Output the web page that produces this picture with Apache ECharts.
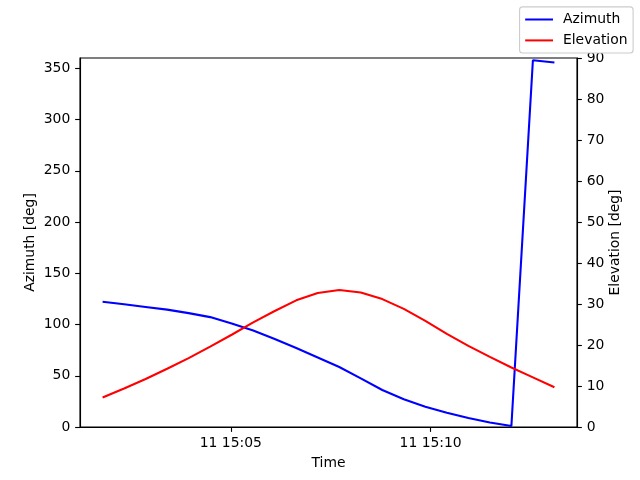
<!DOCTYPE html>
<html><head><meta charset="utf-8">
<script src="https://cdn.jsdelivr.net/npm/echarts@6/dist/echarts.min.js"></script>
<style>html,body{margin:0;padding:0;background:#fff}#c{width:640px;height:480px}</style>
</head><body><div id="c"></div>
<script>
const day = '2000-01-11';
const times = ['15:01:47.5','15:02:19.8','15:02:52.1','15:03:24.4','15:03:56.7','15:04:29.0','15:05:01.3','15:05:33.6','15:06:05.9','15:06:38.2','15:07:10.5','15:07:42.8','15:08:15.1','15:08:47.4','15:09:19.7','15:09:52.0','15:10:24.3','15:10:56.6','15:11:28.9','15:12:01.2','15:12:33.5','15:13:05.8'];
const azimuth = [122.2,119.7,117.1,114.5,111.1,107.2,100.9,94.1,85.8,77.0,67.8,58.5,47.5,36.1,27.0,19.8,13.9,8.8,4.4,1.0,357.8,355.6];
const elevation = [7.2,9.4,11.7,14.2,16.8,19.6,22.5,25.5,28.3,30.9,32.7,33.4,32.8,31.2,28.8,25.9,22.7,19.8,17.1,14.5,12.1,9.7];
const xTickTimes = ['15:05:00','15:10:00'];
const xTickLabels = ['11 15:05','11 15:10'];
const azTicks = [0,50,100,150,200,250,300,350];
const xMin = '15:01:13.6', xMax = '15:13:39.7';

function ts(t){ return new Date(day + 'T' + t).getTime(); }
const xTickVals = xTickTimes.map(ts);
const FONT = 'DejaVu Sans';
const FS = 13.9;
const TICK = 4.86, MARGIN = 9.7, AXW = 1.11;

const chart = echarts.init(document.getElementById('c'), null, {renderer:'canvas'});
chart.setOption({
  animation: false,
  backgroundColor: '#fff',
  textStyle: {fontFamily: FONT},
  grid: {left: 80, right: 63, top: 58, bottom: 53, show: true, borderColor: '#000', borderWidth: AXW, containLabel: false},
  legend: {
    orient: 'vertical', right: 6.9, top: 6.9,
    data: ['Azimuth','Elevation'],
    icon: 'rect', itemWidth: 27.8, itemHeight: 2, itemGap: 6.9,
    padding: [5.6, 5.6, 5.6, 5.6],
    borderColor: '#cccccc', borderWidth: 1.1, borderRadius: 3, backgroundColor: '#fff',
    textStyle: {fontFamily: FONT, fontSize: FS, lineHeight: 14, color: '#000', padding: [0,0,0,5]}
  },
  xAxis: {
    type: 'value', min: ts(xMin), max: ts(xMax),
    name: 'Time', nameLocation: 'middle', nameGap: 29.5, nameMoveOverlap: false,
    nameTextStyle: {fontFamily: FONT, fontSize: FS, color: '#000'},
    axisLine: {show: true, lineStyle: {color: '#000', width: AXW}},
    axisTick: {show: true, length: TICK, lineStyle: {color: '#000', width: AXW}, customValues: xTickVals},
    axisLabel: {fontFamily: FONT, fontSize: FS, color: '#000', margin: MARGIN, customValues: xTickVals,
      formatter: function(v){ const i = xTickVals.indexOf(v); return i >= 0 ? xTickLabels[i] : ''; }},
    splitLine: {show: false}
  },
  yAxis: [{
    type: 'value', min: 0, max: 360, position: 'left',
    name: 'Azimuth [deg]', nameLocation: 'middle', nameGap: 43, nameRotate: 90, nameMoveOverlap: false,
    nameTextStyle: {fontFamily: FONT, fontSize: FS, color: '#000'},
    axisLine: {show: true, lineStyle: {color: '#000', width: AXW}},
    axisTick: {show: true, length: TICK, lineStyle: {color: '#000', width: AXW}, customValues: azTicks},
    axisLabel: {fontFamily: FONT, fontSize: FS, color: '#000', margin: MARGIN, customValues: azTicks},
    splitLine: {show: false}
  },{
    type: 'value', min: 0, max: 90, interval: 10, position: 'right',
    name: 'Elevation [deg]', nameLocation: 'middle', nameGap: 31, nameRotate: 90, nameMoveOverlap: false,
    nameTextStyle: {fontFamily: FONT, fontSize: FS, color: '#000'},
    axisLine: {show: true, lineStyle: {color: '#000', width: AXW}},
    axisTick: {show: true, length: TICK, lineStyle: {color: '#000', width: AXW}},
    axisLabel: {fontFamily: FONT, fontSize: FS, color: '#000', margin: MARGIN},
    splitLine: {show: false}
  }],
  series: [{
    name: 'Azimuth', type: 'line', yAxisIndex: 0, showSymbol: false, symbol: 'none',
    color: '#0000ff', lineStyle: {color: '#0000ff', width: 2.08},
    data: times.map((t,i) => [ts(t), azimuth[i]])
  },{
    name: 'Elevation', type: 'line', yAxisIndex: 1, showSymbol: false, symbol: 'none',
    color: '#ff0000', lineStyle: {color: '#ff0000', width: 2.08},
    data: times.map((t,i) => [ts(t), elevation[i]])
  }]
});
</script>
</body></html>
